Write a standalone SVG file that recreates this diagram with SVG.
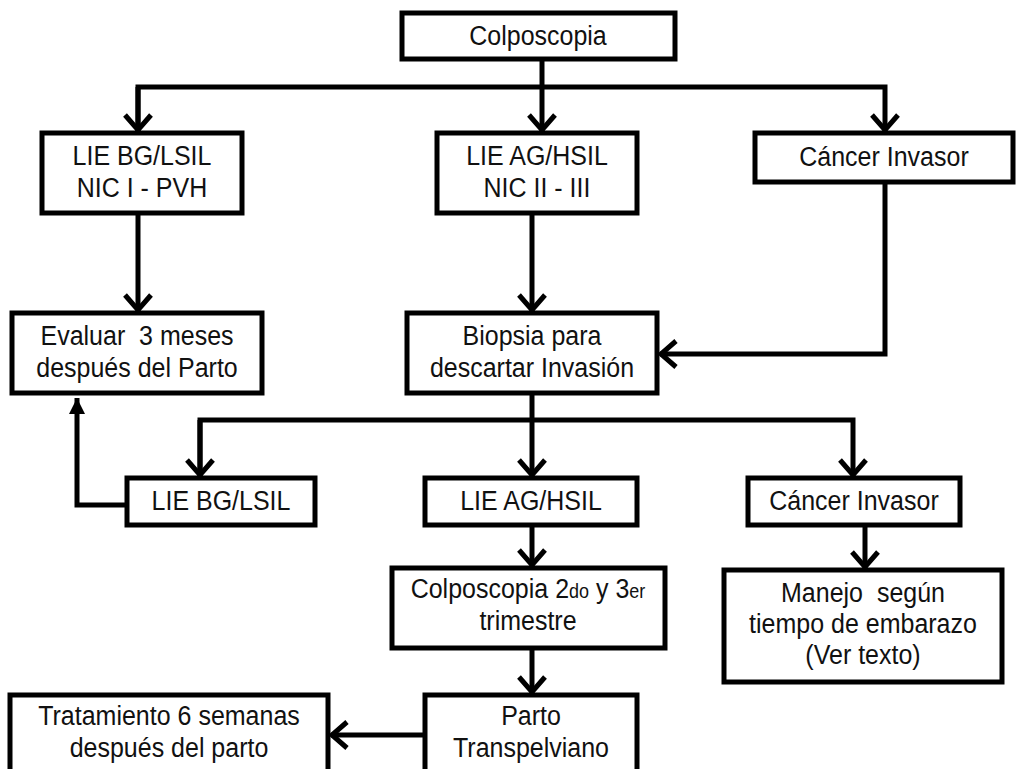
<svg xmlns="http://www.w3.org/2000/svg" width="1021" height="769" viewBox="0 0 1021 769">
<defs>
<style>
.box{fill:#fff;stroke:#000;stroke-width:5}
.t{font-family:"Liberation Sans",Arial,sans-serif;font-size:25px;fill:#111;text-anchor:middle;white-space:pre}
.sm{font-size:18px}
.c{fill:none;stroke:#000;stroke-width:5}
</style>
<marker id="chev" markerUnits="userSpaceOnUse" markerWidth="40" markerHeight="40" viewBox="-20 -20 40 40" refX="0" refY="0" orient="auto">
<path d="M-16,-13 L-1,0 L-16,13" fill="none" stroke="#000" stroke-width="5"/>
</marker>
<marker id="tri" markerUnits="userSpaceOnUse" markerWidth="30" markerHeight="30" viewBox="-20 -15 30 30" refX="0" refY="0" orient="auto">
<path d="M-16,-8 L0,0 L-16,8 Z" fill="#000"/>
</marker>
</defs>
<rect width="1021" height="769" fill="#fff"/>
<g id="connectors">
<path class="c" d="M542,59 V131" marker-end="url(#chev)"/>
<path class="c" d="M138,131 V87 H885 V131" marker-end="url(#chev)"/>
<path class="c" d="M138,87 V131" marker-end="url(#chev)"/>
<path class="c" d="M138,213 V311" marker-end="url(#chev)"/>
<path class="c" d="M532,213 V311" marker-end="url(#chev)"/>
<path class="c" d="M885,182 V354 H660" marker-end="url(#chev)"/>
<path class="c" d="M532,393 V476" marker-end="url(#chev)"/>
<path class="c" d="M200,476 V420 H853 V476" marker-end="url(#chev)"/>
<path class="c" d="M200,420 V476" marker-end="url(#chev)"/>
<path class="c" d="M127,505 H77 V398" marker-end="url(#tri)"/>
<path class="c" d="M532,525 V566" marker-end="url(#chev)"/>
<path class="c" d="M865,525 V568" marker-end="url(#chev)"/>
<path class="c" d="M532,648 V693" marker-end="url(#chev)"/>
<path class="c" d="M425,735 H331" marker-end="url(#chev)"/>
</g>
<g id="n-colposcopia"><rect class="box" x="402" y="13" width="273" height="46"/><text class="t" transform="translate(538,45) scale(1,1.12)">Colposcopia</text></g>
<g id="n-liebg"><rect class="box" x="42" y="133" width="200" height="80"/><text class="t" transform="translate(142,165) scale(1,1.12)">LIE BG/LSIL</text><text class="t" transform="translate(142,197) scale(1,1.12)">NIC I - PVH</text></g>
<g id="n-lieag"><rect class="box" x="437" y="133" width="200" height="80"/><text class="t" transform="translate(537,165) scale(1,1.12)">LIE AG/HSIL</text><text class="t" transform="translate(537,197) scale(1,1.12)">NIC II - III</text></g>
<g id="n-cancer1"><rect class="box" x="755" y="133" width="258" height="49"/><text class="t" transform="translate(884,166) scale(1,1.12)">Cáncer Invasor</text></g>
<g id="n-evaluar"><rect class="box" x="12" y="313" width="250" height="80"/><text class="t" transform="translate(137,345) scale(1,1.12)">Evaluar  3 meses</text><text class="t" transform="translate(137,377) scale(1,1.12)">después del Parto</text></g>
<g id="n-biopsia"><rect class="box" x="407" y="313" width="250" height="80"/><text class="t" transform="translate(532,345) scale(1,1.12)">Biopsia para</text><text class="t" transform="translate(532,377) scale(1,1.12)">descartar Invasión</text></g>
<g id="n-liebg2"><rect class="box" x="127" y="478" width="188" height="47"/><text class="t" transform="translate(221,510) scale(1,1.12)">LIE BG/LSIL</text></g>
<g id="n-lieag2"><rect class="box" x="425" y="478" width="212" height="47"/><text class="t" transform="translate(531,510) scale(1,1.12)">LIE AG/HSIL</text></g>
<g id="n-cancer2"><rect class="box" x="748" y="478" width="212" height="47"/><text class="t" transform="translate(854,510) scale(1,1.12)">Cáncer Invasor</text></g>
<g id="n-colpo2"><rect class="box" x="392" y="568" width="273" height="80"/><text class="t" transform="translate(528,598) scale(1,1.12)">Colposcopia 2<tspan class="sm">do</tspan> y 3<tspan class="sm">er</tspan></text><text class="t" transform="translate(528,630) scale(1,1.12)">trimestre</text></g>
<g id="n-manejo"><rect class="box" x="724" y="570" width="278" height="112"/><text class="t" transform="translate(863,602) scale(1,1.12)">Manejo  según</text><text class="t" transform="translate(863,633) scale(1,1.12)">tiempo de embarazo</text><text class="t" transform="translate(863,664) scale(1,1.12)">(Ver texto)</text></g>
<g id="n-parto"><rect class="box" x="425" y="695" width="212" height="90"/><text class="t" transform="translate(531,725) scale(1,1.12)">Parto</text><text class="t" transform="translate(531,757) scale(1,1.12)">Transpelviano</text></g>
<g id="n-tratamiento"><rect class="box" x="10" y="695" width="318" height="90"/><text class="t" transform="translate(169,725) scale(1,1.12)">Tratamiento 6 semanas</text><text class="t" transform="translate(169,757) scale(1,1.12)">después del parto</text></g>
</svg>
